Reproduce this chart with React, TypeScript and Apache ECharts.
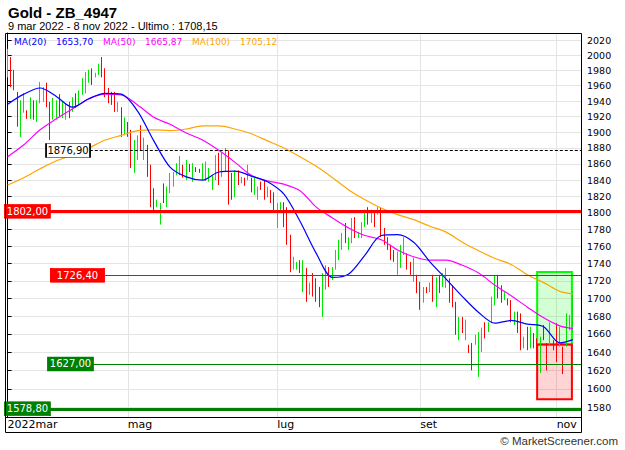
import React, { useEffect, useRef } from 'react';
import * as echarts from 'echarts';

// Daily bars, 9 mar 2022 -> 8 nov 2022 (open / close)
const opens = [
  1971, 1998, 1981, 1952, 1894, 1925, 1928, 1917, 1941, 1913,
  1937, 1939, 1964, 1939, 1916, 1916, 1949, 1918, 1916, 1939,
  1926, 1950, 1935, 1948, 1950, 1964, 1983, 1971, 1974, 1998,
  1983, 1957, 1952, 1952, 1926, 1932, 1896, 1913, 1903, 1849,
  1865, 1909, 1865, 1884, 1859, 1830, 1807, 1786, 1836, 1807,
  1824, 1832, 1846, 1846, 1859, 1840, 1860, 1838, 1856, 1854,
  1840, 1839, 1838, 1828, 1840, 1874, 1844, 1850, 1877, 1849,
  1819, 1852, 1836, 1843, 1840, 1843, 1822, 1816, 1838, 1840,
  1819, 1828, 1825, 1782, 1801, 1813, 1807, 1774, 1733, 1733,
  1744, 1707, 1735, 1704, 1729, 1723, 1713, 1679, 1710, 1736,
  1721, 1733, 1744, 1756, 1788, 1756, 1764, 1795, 1770, 1770,
  1783, 1807, 1788, 1801, 1798, 1807, 1782, 1771, 1762, 1756,
  1727, 1735, 1750, 1752, 1742, 1719, 1727, 1719, 1695, 1713,
  1707, 1727, 1690, 1727, 1713, 1712, 1723, 1715, 1696, 1653,
  1679, 1653, 1648, 1650, 1648, 1613, 1640, 1673, 1662, 1672,
  1692, 1727, 1715, 1698, 1700, 1698, 1670, 1685, 1683, 1644,
  1668, 1644, 1661, 1655, 1617, 1670, 1650, 1648, 1653, 1672,
  1646, 1646, 1646, 1664, 1662,
];
const closes = [
  2009, 1958, 1954, 1907, 1941, 1950, 1917, 1945, 1916, 1941,
  1965, 1958, 1932, 1890, 1944, 1941, 1919, 1939, 1937, 1918,
  1945, 1931, 1954, 1970, 1978, 1981, 1961, 1977, 1989, 1971,
  1945, 1937, 1935, 1926, 1939, 1894, 1919, 1894, 1855, 1890,
  1896, 1877, 1893, 1844, 1807, 1800, 1816, 1812, 1812, 1832,
  1849, 1850, 1861, 1870, 1843, 1865, 1850, 1861, 1850, 1849,
  1861, 1863, 1855, 1846, 1871, 1834, 1874, 1880, 1810, 1816,
  1852, 1834, 1844, 1833, 1859, 1825, 1844, 1832, 1828, 1816,
  1832, 1812, 1801, 1812, 1813, 1783, 1762, 1730, 1748, 1742,
  1729, 1744, 1696, 1718, 1702, 1696, 1690, 1729, 1738, 1713,
  1736, 1756, 1768, 1776, 1764, 1771, 1794, 1770, 1777, 1789,
  1804, 1786, 1804, 1783, 1807, 1771, 1762, 1756, 1744, 1742,
  1754, 1762, 1771, 1733, 1727, 1747, 1706, 1687, 1713, 1706,
  1718, 1696, 1724, 1706, 1729, 1735, 1695, 1690, 1659, 1679,
  1661, 1676, 1639, 1620, 1659, 1662, 1667, 1655, 1673, 1702,
  1727, 1700, 1695, 1707, 1692, 1673, 1685, 1661, 1642, 1657,
  1642, 1668, 1644, 1626, 1657, 1653, 1620, 1673, 1642, 1629,
  1668, 1616, 1683, 1681, 1708.15,
];

// Moving averages read at every 5th bar (and the last bar)
const maIndex = [0, 5, 10, 15, 20, 25, 30, 35, 40, 45, 50, 55, 60, 65, 70, 75, 80, 85,
  90, 95, 100, 105, 110, 115, 120, 125, 130, 135, 140, 145, 150, 155, 160, 165, 170, 174];
const ma20 = [1936, 1949, 1957, 1946, 1932, 1943, 1950, 1949, 1927, 1889, 1856, 1844,
  1840, 1850, 1851, 1845, 1838, 1823, 1790, 1752, 1724, 1728, 1750, 1773, 1774, 1765,
  1742, 1722, 1702, 1684, 1672, 1675, 1671, 1668, 1650, 1653.7];
const ma50 = [1869, 1884, 1903, 1917, 1930, 1943, 1949, 1948, 1935, 1919, 1910, 1899,
  1890, 1877, 1862, 1846, 1839, 1835, 1827, 1807, 1794, 1782, 1773, 1768, 1756, 1748,
  1744, 1744, 1738, 1729, 1715, 1703, 1690, 1678, 1669, 1665.87];
const ma100 = [1834, 1843, 1854, 1864, 1871, 1880, 1890, 1896, 1902, 1903, 1902, 1904,
  1908, 1908, 1904, 1898, 1889, 1880, 1869, 1857, 1843, 1828, 1816, 1806, 1798, 1792,
  1784, 1777, 1765, 1755, 1746, 1739, 1727, 1718, 1708, 1705.12];

// Axis ticks
const monthTickIndex = [0, 37, 83, 127, 169];
const monthTickLabels = ['2022mar', 'mag', 'lug', 'set', 'nov'];
const monthGridIndex = [37, 83, 127, 169];
const priceTicks = [1580, 1600, 1620, 1640, 1660, 1680, 1700, 1720, 1740, 1760, 1780,
  1800, 1820, 1840, 1860, 1880, 1900, 1920, 1940, 1960, 1980, 2000, 2020];

// Horizontal levels
const levelValues = [1876.9, 1802.0, 1726.4, 1627.0, 1578.8];
const levelTexts = ['1876,90', '1802,00', '1726,40', '1627,00', '1578,80'];

// Projection box (high / split / low)
const projectionValues = [1730.2, 1648.4, 1588.9];

// ---- layout / style (not data) ----
const SLOTS = 177;
const levelStyle = [
  { color: '#000000', width: 1, type: [3, 2], from: 25.3, labelAt: 18.6, labelW: 44, bg: '#ffffff', fg: '#000000', border: '#000000' },
  { color: '#ff0000', width: 3, type: 'solid', from: -0.5, labelAt: 6.1, labelW: 45, bg: '#ff0000', fg: '#ffffff', border: '#ff0000' },
  { color: '#ff0000', width: 1, type: 'solid', from: 30, labelAt: 21.5, labelW: 53, bg: '#ff0000', fg: '#ffffff', border: '#ff0000' },
  { color: '#008000', width: 1, type: 'solid', from: 26.3, labelAt: 19.35, labelW: 45, bg: '#008000', fg: '#ffffff', border: '#008000' },
  { color: '#008000', width: 3, type: 'solid', from: -0.5, labelAt: 6.1, labelW: 45, bg: '#008000', fg: '#ffffff', border: '#008000' },
];
const projectionFrom = 163;
const projectionTo = 173.7;

const L = Math.log;
const fmt = (v: number) => v.toFixed(2).replace('.', ',');
const GRID = '#e4e4e4';
const FONT = 'DejaVu Sans';

function buildOption() {
  const candles = opens.map((o, i) => {
    const c = closes[i];
    return [i, L(o), L(c), L(Math.min(o, c)), L(Math.max(o, c))];
  });
  const maLine = (arr: number[]) => maIndex.map((x, i) => [x, L(arr[i])]);
  const last = closes[closes.length - 1];

  const legendItems = [
    { t: 'MA(20)', x: 14, c: '#0000ff' },
    { t: fmt(ma20[ma20.length - 1]), x: 56, c: '#0000ff' },
    { t: 'MA(50)', x: 103, c: '#ff00ff' },
    { t: fmt(ma50[ma50.length - 1]), x: 145, c: '#ff00ff' },
    { t: 'MA(100)', x: 192, c: '#ffa500' },
    { t: fmt(ma100[ma100.length - 1]), x: 240, c: '#ffa500' },
  ];

  return {
    animation: false,
    grid: { left: 6, right: 44, top: 33, bottom: 33, show: false },
    xAxis: {
      type: 'value',
      min: -0.5,
      max: SLOTS - 0.5,
      axisLine: { show: true, onZero: false, lineStyle: { color: '#000', width: 1 } },
      axisTick: { show: false, customValues: monthGridIndex },
      splitLine: { show: true, lineStyle: { color: GRID, width: 1 } },
      axisLabel: {
        customValues: monthTickIndex,
        formatter: (v: number) => {
          const k = monthTickIndex.indexOf(Math.round(v));
          return k >= 0 ? monthTickLabels[k] : '';
        },
        align: 'left',
        margin: 2,
        fontSize: 11,
        fontFamily: FONT,
        color: '#000',
      },
    },
    yAxis: {
      type: 'value',
      position: 'right',
      min: L(1570.2),
      max: L(2030.4),
      axisLine: { show: true, lineStyle: { color: '#000', width: 1 } },
      axisTick: { show: true, length: 4, lineStyle: { color: '#000' }, customValues: priceTicks.map(L) },
      splitLine: { show: true, lineStyle: { color: GRID, width: 1 } },
      axisLabel: {
        customValues: priceTicks.map(L),
        formatter: (v: number) => String(Math.round(Math.exp(v))),
        fontSize: 9.5,
        fontFamily: FONT,
        color: '#000',
        margin: 6,
      },
    },
    series: [
      {
        type: 'line',
        z: 1,
        data: [[0, L(1800)]],
        showSymbol: false,
        lineStyle: { opacity: 0 },
        silent: true,
        markArea: {
          silent: true,
          data: [
            [
              { coord: [projectionFrom, L(projectionValues[0])], itemStyle: { color: 'rgba(0,255,0,0.17)', borderColor: '#00ff00', borderWidth: 2 } },
              { coord: [projectionTo, L(projectionValues[1])] },
            ],
            [
              { coord: [projectionFrom, L(projectionValues[1])], itemStyle: { color: 'rgba(255,0,0,0.17)', borderColor: '#ff0000', borderWidth: 2 } },
              { coord: [projectionTo, L(projectionValues[2])] },
            ],
          ],
        },
      },
      {
        type: 'candlestick',
        z: 2,
        data: candles,
        encode: { x: 0, y: [1, 2, 3, 4] },
        barWidth: 1,
        silent: true,
        itemStyle: {
          color: '#00e600',
          color0: '#ff0000',
          borderColor: '#00e600',
          borderColor0: '#ff0000',
          borderWidth: 1,
        },
      },
      {
        type: 'line',
        z: 3,
        data: [[0, L(1800)]],
        showSymbol: false,
        lineStyle: { opacity: 0 },
        silent: true,
        markLine: {
          silent: true,
          symbol: ['none', 'none'],
          label: { show: false },
          data: levelValues.map((v, i) => [
            { coord: [levelStyle[i].from, L(v)], lineStyle: { color: levelStyle[i].color, width: levelStyle[i].width, type: levelStyle[i].type } },
            { coord: [SLOTS - 0.5, L(v)] },
          ]),
        },
      },
      { type: 'line', z: 4, data: maLine(ma100), showSymbol: false, silent: true, smooth: 0.3, lineStyle: { color: '#ffa500', width: 1.2 } },
      { type: 'line', z: 4, data: maLine(ma50), showSymbol: false, silent: true, smooth: 0.3, lineStyle: { color: '#ff00ff', width: 1.2 } },
      { type: 'line', z: 4, data: maLine(ma20), showSymbol: false, silent: true, smooth: 0.3, lineStyle: { color: '#0000ff', width: 1.2 } },
      {
        type: 'line',
        z: 6,
        data: [[0, L(1800)]],
        showSymbol: false,
        lineStyle: { opacity: 0 },
        silent: true,
        markPoint: {
          silent: true,
          data: levelValues.map((v, i) => ({
            coord: [levelStyle[i].labelAt, L(v)],
            symbol: 'rect',
            symbolSize: [levelStyle[i].labelW, 14],
            itemStyle: { color: levelStyle[i].bg, borderColor: levelStyle[i].border, borderWidth: 1 },
            label: {
              show: true,
              position: 'inside',
              formatter: levelTexts[i],
              color: levelStyle[i].fg,
              fontSize: 10,
              fontFamily: FONT,
            },
          })),
        },
      },
    ],
    graphic: [
      {
        type: 'rect',
        silent: true,
        z: 100,
        shape: { x: 5.5, y: 33.5, width: 576, height: 399 },
        style: { fill: 'none', stroke: '#000', lineWidth: 1 },
      },
      {
        type: 'text',
        left: 8,
        top: 5,
        style: { text: 'Gold - ZB_4947', fontSize: 15, fontWeight: 'bold', fontFamily: 'Liberation Sans', fill: '#000' },
      },
      {
        type: 'text',
        left: 8,
        top: 20,
        style: { text: '9 mar 2022 - 8 nov 2022 - Ultimo : ' + fmt(last), fontSize: 11, fontFamily: 'Liberation Sans', fill: '#000' },
      },
      ...legendItems.map((it) => ({
        type: 'text',
        x: it.x,
        y: 42,
        z: 50,
        style: { text: it.t, fontSize: 9, fontFamily: FONT, fill: it.c, verticalAlign: 'middle' },
      })),
      {
        type: 'text',
        x: 618,
        y: 441,
        style: { text: '© MarketScreener.com', fontSize: 11.5, fontFamily: 'Liberation Sans', fill: '#333', align: 'right', verticalAlign: 'middle' },
      },
    ],
  };
}

export default function App() {
  const ref = useRef<HTMLDivElement>(null);
  useEffect(() => {
    document.body.style.margin = '0';
    const chart = echarts.init(ref.current as HTMLDivElement, null, { renderer: 'svg' });
    chart.setOption(buildOption() as any);
    return () => chart.dispose();
  }, []);
  return <div ref={ref} style={{ width: 625, height: 450 }} />;
}
